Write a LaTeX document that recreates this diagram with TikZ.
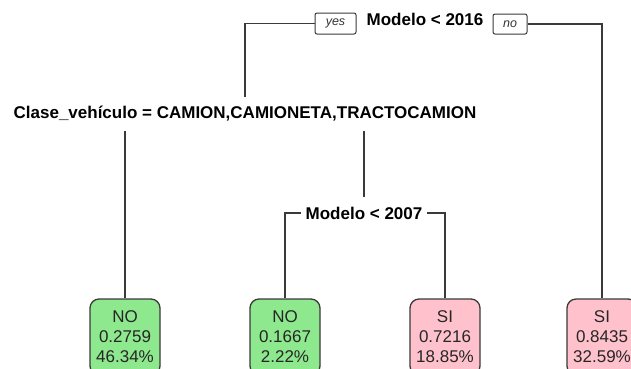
\documentclass[tikz,border=0pt]{standalone}
\usepackage{fontspec}
\setmainfont{Liberation Sans}
\usetikzlibrary{backgrounds}
\definecolor{edgecol}{HTML}{3A3A3A}
\definecolor{leafgreen}{HTML}{8EE88E}
\definecolor{leafpink}{HTML}{FFC2CC}
\definecolor{leaftext}{HTML}{262626}
\tikzset{
  split/.style={fill=white, inner xsep=5pt, inner ysep=0pt,
    font=\fontsize{17}{20}\selectfont\bfseries, text=black},
  tag/.style={draw=edgecol, line width=1pt, rounded corners=2pt, fill=white,
    inner sep=0pt, font=\fontsize{12.5}{14}\selectfont\itshape, text=black!80},
  leaf/.style={draw=edgecol, line width=1.3pt, rounded corners=9pt, align=center,
    minimum width=70pt, minimum height=76pt, inner sep=0pt,
    font=\fontsize{17}{20}\selectfont, text=leaftext},
  leafno/.style={leaf, fill=leafgreen},
  leafsi/.style={leaf, fill=leafpink},
  branch/.style={draw=edgecol, line width=1.4pt}
}
\begin{document}
\begin{tikzpicture}[x=1pt, y=-1pt]
  \useasboundingbox (0,0) rectangle (631,368);

  % split labels
  \node[split, minimum height=22pt] (root) at (425,19) {Modelo < 2016};
  \node[tag, minimum width=41pt, minimum height=21pt] (yes) at (335.5,23.5) {yes};
  \node[tag, minimum width=34pt, minimum height=20pt] (no) at (510,24) {no};
  \node[split, minimum height=34pt, inner xsep=2pt] (clase) at (245,114)
    {Clase\_vehículo = CAMION,CAMIONETA,TRACTOCAMION};
  \node[split, minimum height=32pt] (m2007) at (364,213) {Modelo < 2007};

  % leaves
  \node[leafno] (l1) at (125,337) {NO\\0.2759\\46.34\%};
  \node[leafno] (l2) at (285,337) {NO\\0.1667\\2.22\%};
  \node[leafsi] (l3) at (445,337) {SI\\0.7216\\18.85\%};
  \node[leafsi] (l4) at (602,337) {SI\\0.8435\\32.59\%};

  % branches, kept under the labels
  \begin{pgfonlayer}{background}
    \fill[white] (0,0) rectangle (631,368);
    \draw[branch] (yes.west) -| (clase);
    \draw[branch] (no.east) -| (l4);
    \draw[branch] (clase.center) -| (l1);
    \draw[branch] (clase.center) -| (m2007);
    \draw[branch] (m2007.center) -| (l2);
    \draw[branch] (m2007.center) -| (l3);
  \end{pgfonlayer}
\end{tikzpicture}
\end{document}
